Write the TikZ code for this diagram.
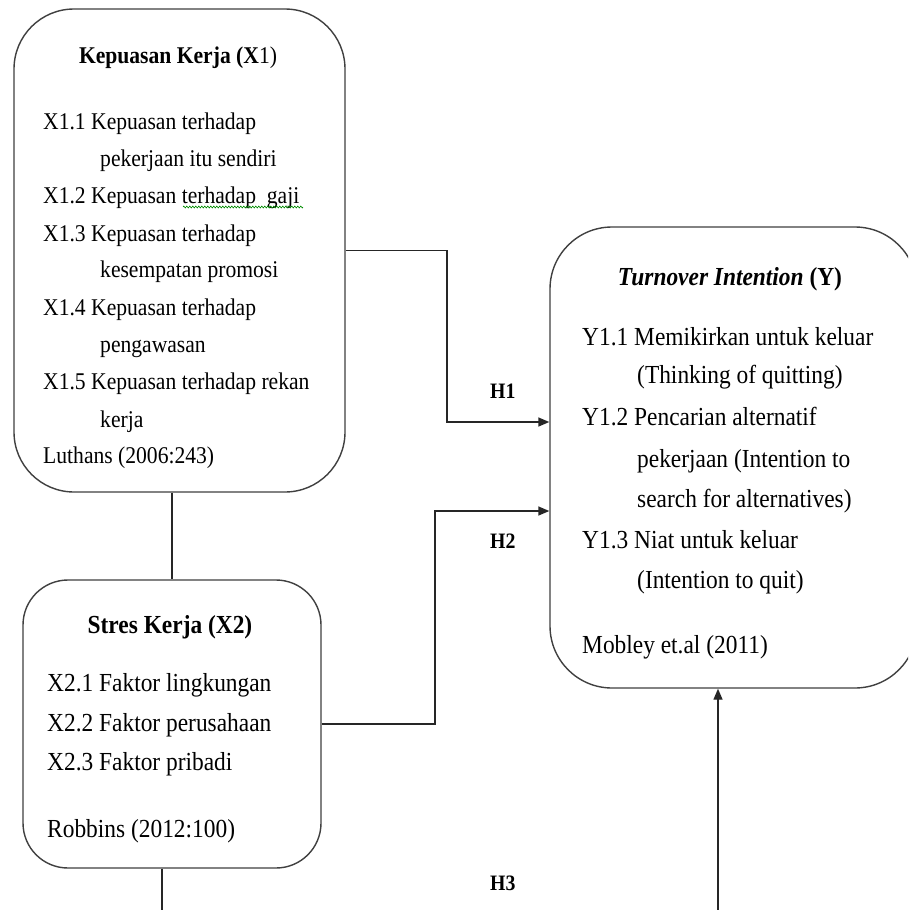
\documentclass[tikz,border=0pt]{standalone}
\usepackage{fontspec}
\setmainfont[FakeStretch=0.9]{Liberation Serif}
\usetikzlibrary{arrows.meta,decorations.pathmorphing}
\newcommand{\szA}{\fontsize{24}{28}\selectfont}
\newcommand{\szB}{\fontsize{26}{30}\selectfont}
\newcommand{\szH}{\fontsize{22}{26}\selectfont}
\begin{document}
\begin{tikzpicture}[x=1pt,y=-1pt,
  box/.style={draw=black!75,line width=1.4pt,rounded corners=#1,inner sep=0,fill=none},
  tA/.style={anchor=base west,inner sep=0,font=\szA},
  tB/.style={anchor=base west,inner sep=0,font=\szB},
  ttl/.style={anchor=base,inner sep=0},
  hl/.style={anchor=base west,inner sep=0,font=\szH\bfseries},
  conn/.style={draw=black!85,line width=1.4pt},
  arr/.style={conn,-{Triangle[length=11pt,width=9pt]}},
  squig/.style={draw=green!55!black,line width=0.6pt,decorate,decoration={zigzag,segment length=3pt,amplitude=1pt}}
]
\useasboundingbox (0,0) rectangle (908,910);
\fill[white] (0,0) rectangle (908,910);
\clip (0,0) rectangle (908,910);

% boxes
\node[box=60,minimum width=331pt,minimum height=483pt] (x1) at (179.5,250.5) {};
\node[box=62,minimum width=367pt,minimum height=461pt] (y) at (733.5,457.5) {};
\node[box=45,minimum width=298pt,minimum height=288pt] (x2) at (172,724) {};

% X1 text
\node[ttl,font=\szA] (x1t) at (178,63) {\textbf{Kepuasan Kerja (X}1)};
\node[tA] (x1a) at (43,129) {X1.1 Kepuasan terhadap};
\node[tA] (x1b) at (100,166) {pekerjaan itu sendiri};
\node[tA] (x1c) at (43,203) {X1.2 Kepuasan terhadap\ \ gaji};
\node[tA] (x1d) at (43,241) {X1.3 Kepuasan terhadap};
\node[tA] (x1e) at (100,277) {kesempatan promosi};
\node[tA] (x1f) at (43,315) {X1.4 Kepuasan terhadap};
\node[tA] (x1g) at (100,352) {pengawasan};
\node[tA] (x1h) at (43,389) {X1.5 Kepuasan terhadap rekan};
\node[tA] (x1i) at (100,427) {kerja};
\node[tA] (x1j) at (43,463) {Luthans (2006:243)};
\coordinate (sq1) at (183,207);
\coordinate (sq2) at (303,207);
\draw[squig] (sq1) -- (sq2);

% Y text
\node[ttl,font=\szB] (yt) at (730,285) {\textbf{\textit{Turnover Intention} (Y)}};
\node[tB] (ya) at (582,345) {Y1.1 Memikirkan untuk keluar};
\node[tB] (yb) at (637,383) {(Thinking of quitting)};
\node[tB] (yc) at (582,425) {Y1.2 Pencarian alternatif};
\node[tB] (yd) at (637,467) {pekerjaan (Intention to};
\node[tB] (ye) at (637,507) {search for alternatives)};
\node[tB] (yf) at (582,548) {Y1.3 Niat untuk keluar};
\node[tB] (yg) at (637,588) {(Intention to quit)};
\node[tB] (yh) at (582,653) {Mobley et.al (2011)};

% X2 text
\node[ttl,font=\szB] (x2t) at (170,633) {\textbf{Stres Kerja (X2)}};
\node[tB] (x2a) at (47,691) {X2.1 Faktor lingkungan};
\node[tB] (x2b) at (47,731) {X2.2 Faktor perusahaan};
\node[tB] (x2c) at (47,770) {X2.3 Faktor pribadi};
\node[tB] (x2d) at (47,837) {Robbins (2012:100)};

% hypothesis labels
\node[hl] (h1) at (490,398) {H1};
\node[hl] (h2) at (490,548) {H2};
\node[hl] (h3) at (490,890) {H3};

% connectors
\draw[arr] (x1.east) -| (447,336) |- (y.west |- 0,422);
\draw[arr] (x2.east) -| (435,600) |- (y.west |- 0,511);
\draw[conn] (x1.south -| x2.north) -- (x2.north);
\coordinate (b2) at (162,910);
\draw[conn] (b2 |- x2.south) -- (b2);
\coordinate (b3) at (718,910);
\draw[arr] (b3) -- (b3 |- y.south);
\end{tikzpicture}
\end{document}
